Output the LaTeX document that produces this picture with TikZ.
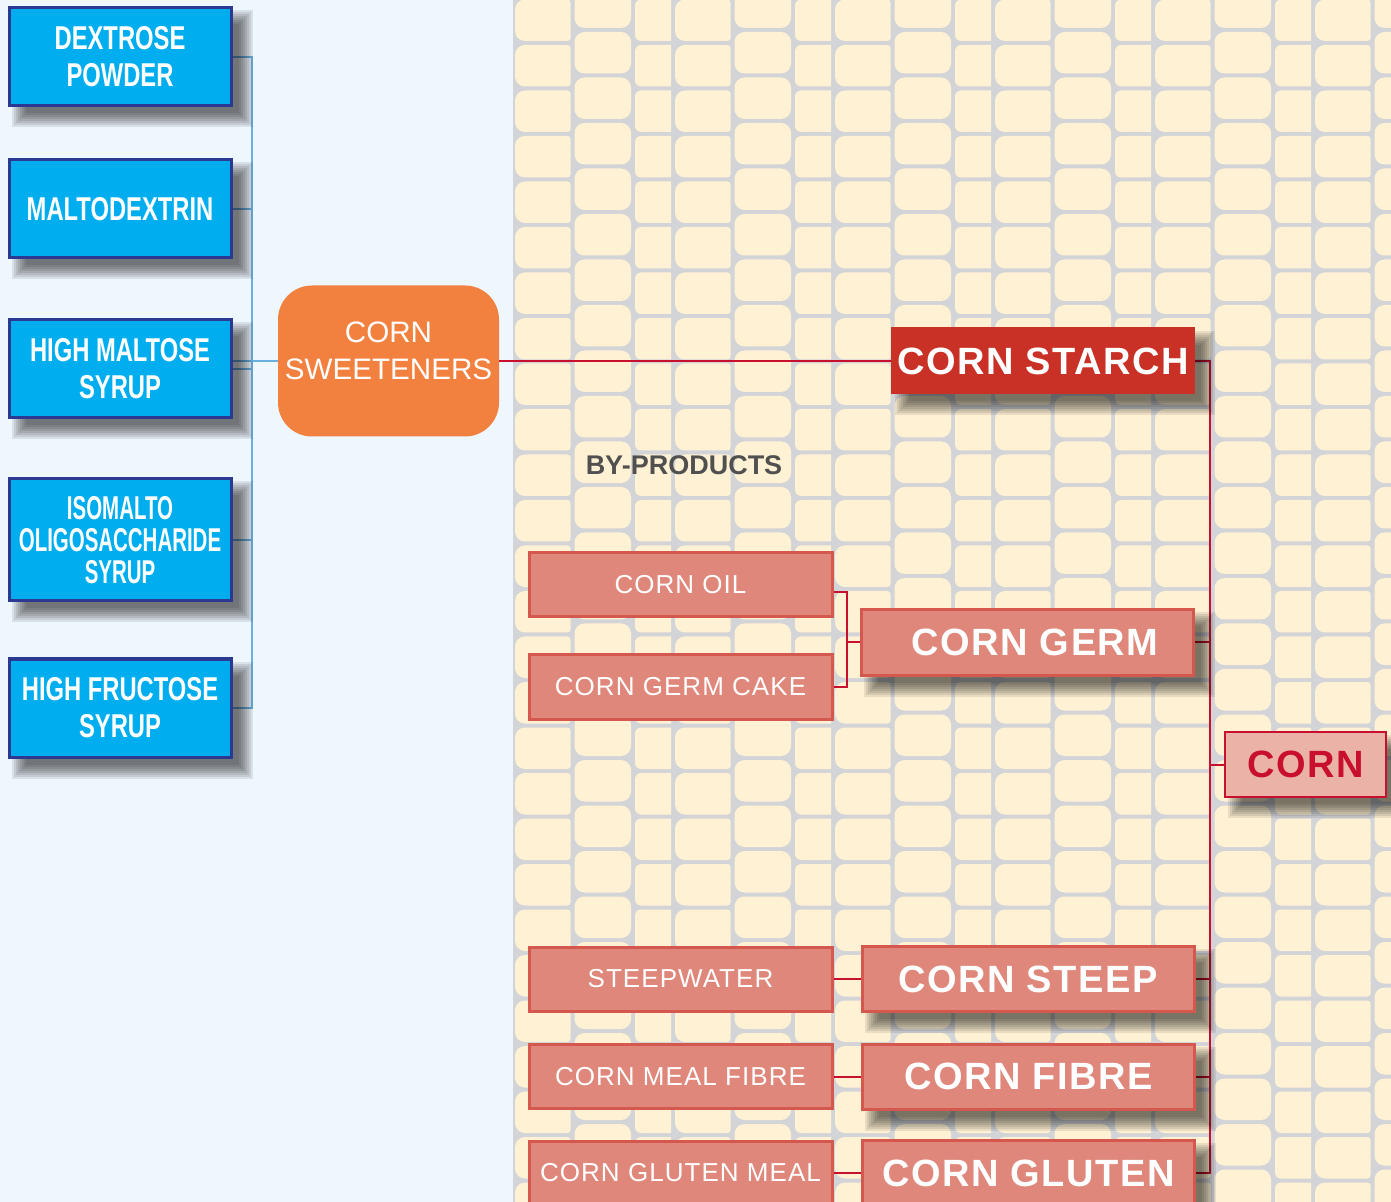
\documentclass[tikz,border=0pt]{standalone}
\usepackage{fontspec}
\setmainfont{Liberation Sans}
\newfontfamily\condfont[FakeStretch=0.72]{Liberation Sans}
\newfontfamily\tightfont[FakeStretch=0.62]{Liberation Sans}
\newfontfamily\spacedfont[LetterSpace=4]{Liberation Sans}

\definecolor{sugarbg}{HTML}{EEF6FE}
\definecolor{kernelfill}{HTML}{FFF1D4}
\definecolor{kernelgap}{HTML}{D3D4D7}
\definecolor{sugarblue}{HTML}{00AEEF}
\definecolor{sugarnavy}{HTML}{2B3990}
\definecolor{sugarline}{HTML}{6AB0E0}
\definecolor{sweetorange}{HTML}{F2813F}
\definecolor{starchred}{HTML}{C93126}
\definecolor{salmon}{HTML}{DF877A}
\definecolor{salmonedge}{HTML}{D5584F}
\definecolor{crimson}{HTML}{C8102E}
\definecolor{cornpink}{HTML}{EBB2A8}
\definecolor{darkgrey}{HTML}{505050}

\pgfdeclarelayer{backdrop}
\pgfdeclarelayer{shade}
\pgfsetlayers{backdrop,shade,main}

\tikzset{
  sugarbox/.style={draw=sugarnavy, fill=sugarblue, line width=1.5pt, text=white,
                   align=center, inner sep=0pt, minimum width=111pt, minimum height=49pt,
                   font=\condfont\bfseries\fontsize{16.5}{18.5}\selectfont},
  mainbox/.style={draw=salmonedge, fill=salmon, line width=1.5pt, text=white,
                  inner sep=0pt, minimum width=166pt, minimum height=32.5pt,
                  font=\spacedfont\bfseries\fontsize{19}{21}\selectfont},
  sidebox/.style={draw=salmonedge, fill=salmon, line width=1.5pt, text=white,
                  inner sep=0pt, minimum width=151.5pt, minimum height=32pt,
                  font=\spacedfont\fontsize{13}{15}\selectfont},
  sugarlink/.style={draw=sugarline, line width=1pt},
  cornlink/.style={draw=crimson, line width=1pt},
  softshade/.style={fill=black, opacity=.085},
}

\begin{document}
\begin{tikzpicture}[x=0.5pt, y=-0.5pt]
\useasboundingbox (0,0) rectangle (1391,1202);

% backgrounds: sky blue on the left, corn kernels on the right
\begin{pgfonlayer}{backdrop}
\fill[sugarbg] (0,0) rectangle (1391,1202);
\fill[kernelgap] (513,0) rectangle (1391,1202);
\foreach \p in {0,...,5}{
  \foreach \k in {-1,...,27}{
    % left column, rounded on the left only
    \fill[kernelfill] ({513+160*\p+57.5},{45.5*\k-0.5}) [rounded corners=5pt]
      -- ({513+160*\p+2},{45.5*\k-0.5}) -- ({513+160*\p+2},{45.5*\k+41}) [rounded corners=1.5pt]
      -- ({513+160*\p+57.5},{45.5*\k+41}) -- cycle;
    % middle column, shifted up
    \fill[kernelfill, rounded corners=5pt]
      ({513+160*\p+61.5},{45.5*\k-13.5}) rectangle ({513+160*\p+118},{45.5*\k+28});
    % narrow column
    \fill[kernelfill] ({513+160*\p+158},{45.5*\k-0.5}) [rounded corners=3pt]
      -- ({513+160*\p+122},{45.5*\k-0.5}) -- ({513+160*\p+122},{45.5*\k+41}) [sharp corners]
      -- ({513+160*\p+158},{45.5*\k+41}) -- cycle;
  }
}
\end{pgfonlayer}

% sweeteners
\node[sugarbox] (dextrose) at (120,57) {DEXTROSE\\POWDER};
\node[sugarbox] (malto) at (120,209) {MALTODEXTRIN};
\node[sugarbox] (maltose) at (120,369) {HIGH MALTOSE\\SYRUP};
\node[sugarbox, minimum height=61pt, font=\tightfont\bfseries\fontsize{16.5}{16}\selectfont]
  (isomalto) at (120,540) {ISOMALTO\\OLIGOSACCHARIDE\\SYRUP};
\node[sugarbox] (fructose) at (120,708) {HIGH FRUCTOSE\\SYRUP};

\node[fill=sweetorange, rounded corners=17pt, text=white, align=center, inner sep=0pt,
      minimum width=110.5pt, minimum height=75.5pt, text depth=10pt,
      font=\fontsize{14.8}{18.5}\selectfont] (sweeteners) at (388.5,361) {CORN\\SWEETENERS};

% corn and its parts
\node[fill=starchred, text=white, inner sep=0pt, minimum width=152pt, minimum height=33.5pt,
      font=\spacedfont\bfseries\fontsize{19}{21}\selectfont] (starch) at (1043,361) {CORN STARCH};
\node[draw=crimson, fill=cornpink, text=crimson, line width=1.25pt, inner sep=0pt,
      minimum width=80.5pt, minimum height=32.5pt,
      font=\spacedfont\bfseries\fontsize{19}{21}\selectfont] (corn) at (1305.5,764.5) {CORN};

\node[mainbox] (germ) at (1027,642.5) {\hspace{8pt}CORN GERM};
\node[mainbox] (steep) at (1028,979) {CORN STEEP};
\node[mainbox] (fibre) at (1028.5,1076.5) {CORN FIBRE};
\node[mainbox] (gluten) at (1028.5,1173) {CORN GLUTEN};

\node[text=darkgrey, font=\bfseries\fontsize{13.5}{15}\selectfont] (byproducts) at (684,465) {BY-PRODUCTS};

\node[sidebox] (oil) at (680.5,585) {CORN OIL};
\node[sidebox] (cake) at (680.5,687) {CORN GERM CAKE};
\node[sidebox] (steepwater) at (680.5,979) {STEEPWATER};
\node[sidebox] (mealfibre) at (680.5,1076.5) {CORN MEAL FIBRE};
\node[sidebox] (glutenmeal) at (680.5,1173) {CORN GLUTEN MEAL};

\begin{pgfonlayer}{shade}
% connectors
\coordinate (sugartop) at (252,57);
\coordinate (sugarbot) at (252,708);
\draw[sugarlink] (dextrose.east) -- (sugartop) -- (sugarbot) -- (fructose.east);
\foreach \n in {malto,maltose,isomalto}
  \draw[sugarlink] (\n.east) -- (\n.east -| sugartop);
\draw[sugarlink] (sweeteners.west) -- (sweeteners.west -| maltose.east);

\coordinate (trunktop) at (1210,361);
\coordinate (trunkbot) at (1210,1173);
\draw[cornlink] (sweeteners.east) -- (starch.west);
\draw[cornlink] (starch.east) -- (trunktop) -- (trunkbot) -- (gluten.east);
\foreach \n in {germ,steep,fibre}
  \draw[cornlink] (\n.east) -- (\n.east -| trunktop);
\draw[cornlink] (corn.west) -- (corn.west -| trunktop);

\coordinate (germfork) at (847,642.5);
\draw[cornlink] ([yshift=-3.5pt]oil.east) -| (germfork) |- (cake.east);
\draw[cornlink] (germfork) -- (germ.west);
\draw[cornlink] (steepwater.east) -- (steep.west);
\draw[cornlink] (mealfibre.east) -- (fibre.west);
\draw[cornlink] (glutenmeal.east) -- (gluten.west);

% soft drop shadows
\foreach \n in {dextrose,malto,maltose,isomalto,fructose,starch,corn,germ,steep,fibre,gluten}
  \foreach \s in {-6,-4,...,8}
    \fill[softshade] ([shift={({12-\s},{12+\s})}]\n.south west)
      rectangle ([shift={({12+\s},{12-\s})}]\n.north east);
\end{pgfonlayer}
\end{tikzpicture}
\end{document}
